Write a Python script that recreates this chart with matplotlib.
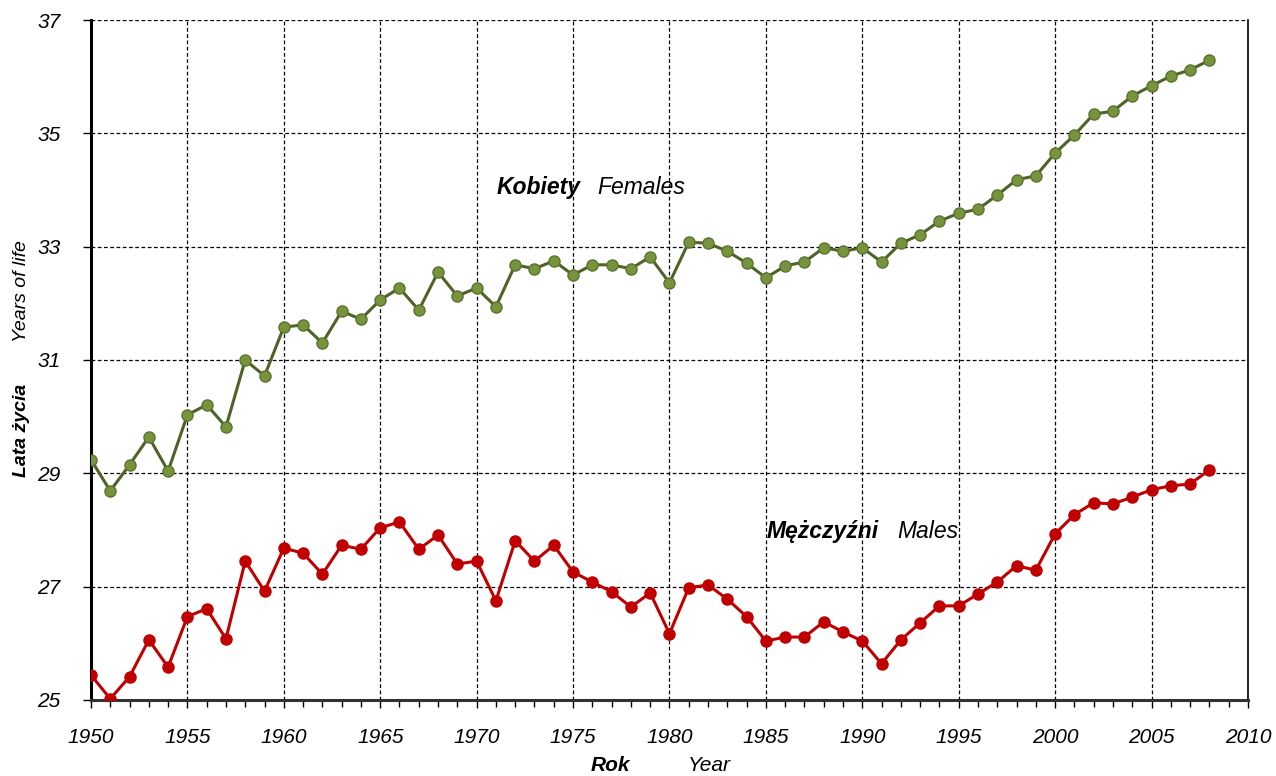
import matplotlib
matplotlib.use("Agg")
import matplotlib.pyplot as plt
from matplotlib.ticker import MultipleLocator

plt.rcParams['font.family'] = ['Liberation Sans', 'DejaVu Sans']

years = list(range(1950, 2009))

# Kobiety / Females
females = [29.24, 28.69, 29.15, 29.64, 29.04, 30.03, 30.21, 29.82, 31.00, 30.72,
           31.58, 31.62, 31.30, 31.86, 31.72, 32.06, 32.27, 31.88, 32.55, 32.13,
           32.27, 31.94, 32.68, 32.61, 32.75, 32.50, 32.68, 32.68, 32.61, 32.82,
           32.36, 33.08, 33.06, 32.92, 32.71, 32.45, 32.66, 32.73, 32.98, 32.92,
           32.98, 32.73, 33.06, 33.21, 33.45, 33.59, 33.66, 33.91, 34.18, 34.25,
           34.65, 34.97, 35.34, 35.39, 35.66, 35.84, 36.01, 36.12, 36.29]

# Mężczyźni / Males
males = [25.44, 25.02, 25.41, 26.06, 25.58, 26.47, 26.61, 26.08, 27.45, 26.92,
         27.68, 27.59, 27.22, 27.73, 27.66, 28.04, 28.14, 27.66, 27.91, 27.40,
         27.45, 26.75, 27.81, 27.45, 27.73, 27.26, 27.08, 26.91, 26.64, 26.89,
         26.17, 26.98, 27.03, 26.78, 26.47, 26.04, 26.11, 26.11, 26.38, 26.20,
         26.04, 25.64, 26.06, 26.36, 26.66, 26.66, 26.87, 27.08, 27.37, 27.29,
         27.93, 28.27, 28.48, 28.46, 28.58, 28.71, 28.78, 28.81, 29.06]

yticks = [25, 27, 29, 31, 33, 35, 37]

fig = plt.figure(figsize=(12.76, 7.76), dpi=100)
ax = fig.add_axes([0.0713, 0.098, 0.9067, 0.8762])

ax.plot(years, females, color='#4F6228', lw=2.2, marker='o', ms=8,
        mfc='#77933C', mec='#5C7430', mew=1, zorder=3)
ax.plot(years, males, color='#C00000', lw=2.2, marker='o', ms=8,
        mfc='#C00000', mec='#C00000', zorder=3)

ax.set_xlim(1950, 2010)
ax.set_ylim(25, 37)
ax.xaxis.set_major_locator(MultipleLocator(5))
ax.xaxis.set_minor_locator(MultipleLocator(1))
ax.set_yticks(yticks)

ax.grid(True, which='major', color='black', ls=(0, (3, 2)), lw=0.9)
ax.set_axisbelow(True)

for s in ['left', 'bottom']:
    ax.spines[s].set_linewidth(2.2)
ax.spines['bottom'].set_color('#333333')
ax.spines['right'].set_linewidth(1.2)
ax.spines['top'].set_visible(False)

ax.tick_params(axis='both', which='major', length=6, width=1, direction='out',
               labelsize=15)
ax.tick_params(axis='x', which='major', pad=14)
ax.tick_params(axis='y', which='major', pad=16)
ax.tick_params(axis='x', which='minor', length=5, width=1, direction='out')
for lab in ax.get_xticklabels() + ax.get_yticklabels():
    lab.set_fontstyle('italic')

ax.text(1971.05, 34.05, 'Kobiety', fontsize=16.5, fontstyle='italic',
        fontweight='bold', va='center', ha='left')
ax.text(1976.25, 34.05, 'Females', fontsize=16.5, fontstyle='italic',
        va='center', ha='left')
ax.text(1985.05, 27.97, 'Mężczyźni', fontsize=16.5, fontstyle='italic',
        fontweight='bold', va='center', ha='left')
ax.text(1991.8, 27.97, 'Males', fontsize=16.5, fontstyle='italic',
        va='center', ha='left')

fig.text(0.0165, 0.446, 'Lata życia', rotation=90, fontsize=14,
         fontstyle='italic', fontweight='bold', ha='center', va='center')
fig.text(0.0165, 0.625, 'Years of life', rotation=90, fontsize=14,
         fontstyle='italic', ha='center', va='center')
fig.text(0.478, 0.014, 'Rok', fontsize=15, fontstyle='italic',
         fontweight='bold', ha='center', va='center')
fig.text(0.556, 0.014, 'Year', fontsize=15, fontstyle='italic',
         ha='center', va='center')

fig.savefig('out.png', dpi=100)
